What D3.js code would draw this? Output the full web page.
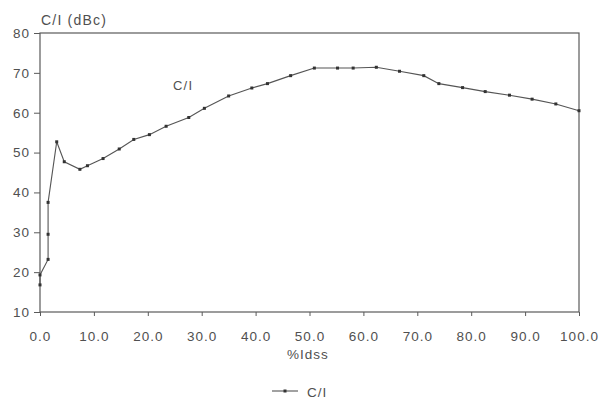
<!DOCTYPE html>
<html>
<head>
<meta charset="utf-8">
<script src="https://cdn.jsdelivr.net/npm/d3@7"></script>
<style>
  body { margin: 0; background: #fff; }
  svg { font-family: "Liberation Sans", Arial, sans-serif; }
  .tick text { fill: #505050; font-size: 13.5px; letter-spacing: 1px; }
</style>
</head>
<body>
<svg id="chart" width="600" height="399"></svg>
<script>
// %Idss vs C/I (dBc)
const idss = [0, 0, 1.5, 1.5, 1.5, 3.1, 4.5, 7.4, 8.8, 11.7, 14.7, 17.4, 20.3, 23.4, 27.6,
  30.5, 35.0, 39.3, 42.2, 46.5, 50.9, 55.2, 58.1, 62.4, 66.7, 71.2, 74.0, 78.4, 82.6, 87.1, 91.3, 95.7, 100];
const ci = [16.8, 19.3, 23.2, 29.5, 37.5, 52.7, 47.7, 45.8, 46.7, 48.5, 50.9, 53.3, 54.5, 56.6, 58.8,
  61.1, 64.2, 66.2, 67.3, 69.3, 71.2, 71.2, 71.2, 71.4, 70.4, 69.3, 67.3, 66.3, 65.3, 64.4, 63.4, 62.2, 60.5];
const xTicks = [0, 10, 20, 30, 40, 50, 60, 70, 80, 90, 100];
const yTicks = [10, 20, 30, 40, 50, 60, 70, 80];

const svg = d3.select('#chart');
const MARGINS = { top: 33, bottom: 87, left: 40, right: 21 };
const W = 600 - MARGINS.left - MARGINS.right;
const H = 399 - MARGINS.top - MARGINS.bottom;
const ink = '#505050';

const x = d3.scaleLinear().domain([0, 100]).range([0, W]);
const y = d3.scaleLinear().domain([10, 80]).range([H, 0]);

const g = svg.append('g').attr('transform', `translate(${MARGINS.left},${MARGINS.top})`);

// frame
g.append('rect').attr('width', W).attr('height', H)
  .attr('fill', 'none').attr('stroke', '#5a5a5a').attr('stroke-width', 1.2);

const ax = g.append('g').attr('transform', `translate(0,${H})`)
  .call(d3.axisBottom(x).tickValues(xTicks).tickSize(4).tickPadding(15).tickFormat(d3.format('.1f')));
ax.select('.domain').remove();
ax.selectAll('line').attr('stroke', '#5a5a5a');

const ay = g.append('g')
  .call(d3.axisLeft(y).tickValues(yTicks).tickSize(6).tickPadding(4));
ay.select('.domain').remove();
ay.selectAll('line').attr('stroke', '#5a5a5a');

const line = d3.line().x((d, i) => x(idss[i])).y(d => y(d));
g.append('path').datum(ci)
  .attr('d', line).attr('fill', 'none').attr('stroke', '#555').attr('stroke-width', 1.1);

g.selectAll('.pt').data(ci).join('rect').attr('class', 'pt')
  .attr('x', (d, i) => x(idss[i]) - 1.5).attr('y', d => y(d) - 1.5)
  .attr('width', 3).attr('height', 3).attr('fill', '#333');

// labels
svg.append('text').attr('x', 41).attr('y', 25).attr('fill', ink).attr('font-size', 14)
  .attr('letter-spacing', 1.2).text('C/I (dBc)');
svg.append('text').attr('x', 173).attr('y', 90).attr('fill', ink).attr('font-size', 13)
  .attr('letter-spacing', 1.2).text('C/I');
svg.append('text').attr('x', 308).attr('y', 359).attr('text-anchor', 'middle')
  .attr('fill', ink).attr('font-size', 13.5).attr('letter-spacing', 1).text('%Idss');

// legend
const lg = svg.append('g').attr('transform', 'translate(272,391)');
lg.append('line').attr('x1', 0).attr('x2', 26).attr('stroke', '#555').attr('stroke-width', 1.1);
lg.append('rect').attr('x', 11.5).attr('y', -1.5).attr('width', 3).attr('height', 3).attr('fill', '#333');
lg.append('text').attr('x', 35).attr('y', 6).attr('fill', ink).attr('font-size', 13.5)
  .attr('letter-spacing', 1).text('C/I');
</script>
</body>
</html>
